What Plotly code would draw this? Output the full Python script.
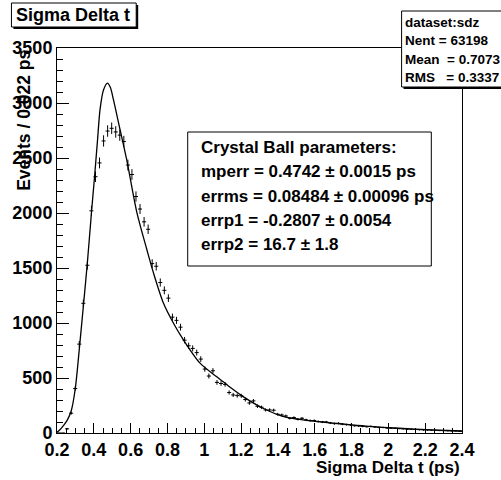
import numpy as np
import plotly.graph_objects as go

# ---------------- data ----------------
bin_lo, bin_hi, n_bins = 0.2, 2.4, 100
counts = [
    0, 0, 38, 180, 404, 808, 1179, 1525, 2020, 2330,
    2455, 2655, 2745, 2770, 2737, 2708, 2650, 2436, 2350, 2150,
    2036, 1920, 1852, 1540, 1516, 1368, 1297, 1226, 1053, 1024,
    962, 844, 793, 769, 731, 672, 581, 518, 566, 460,
    450, 442, 368, 346, 340, 338, 304, 273, 292, 243,
    234, 210, 210, 207, 170, 164, 155, 134, 140, 125,
    134, 119, 113, 113, 104, 100, 100, 91, 85, 88,
    80, 76, 74, 66, 64, 60, 57, 60, 55, 51,
    50, 46, 44, 43, 40, 38, 35, 33, 32, 30,
    28, 27, 25, 24, 22, 21, 20, 19, 18, 16,
]
curve_x = [0.200, 0.210, 0.236, 0.255, 0.277, 0.299, 0.321, 0.343, 0.365, 0.387,
           0.404, 0.420, 0.434, 0.453, 0.474, 0.490, 0.506, 0.542, 0.578, 0.634,
           0.688, 0.724, 0.778, 0.832, 0.886, 0.977, 1.066, 1.103, 1.157, 1.211,
           1.319, 1.427, 1.535, 1.643, 1.751, 1.877, 2.058, 2.238, 2.400]
curve_y = [8, 20, 70, 115, 200, 400, 760, 1150, 1550, 2000,
           2330, 2660, 2944, 3120, 3180, 3140, 3035, 2762, 2489, 2003,
           1668, 1456, 1182, 1000, 848, 635, 513, 466, 395, 331,
           225, 152, 120, 100, 82, 63, 43, 28, 18]

x_tick_vals = [0.2, 0.4, 0.6, 0.8, 1.0, 1.2, 1.4, 1.6, 1.8, 2.0, 2.2, 2.4]
x_tick_text = ["0.2", "0.4", "0.6", "0.8", "1", "1.2", "1.4", "1.6", "1.8", "2", "2.2", "2.4"]
y_tick_vals = [0, 500, 1000, 1500, 2000, 2500, 3000, 3500]
y_tick_text = ["0", "500", "1000", "1500", "2000", "2500", "3000", "3500"]

title_text = "Sigma Delta t"
x_title = "Sigma Delta t (ps)"
y_title = "Events / 0.022 ps"
stats_lines = ["dataset:sdz", "Nent = 63198", "Mean  = 0.7073", "RMS   = 0.3337"]
fit_lines = ["Crystal Ball parameters:",
             "mperr = 0.4742 ± 0.0015 ps",
             "errms = 0.08484 ± 0.00096 ps",
             "errp1 = -0.2807 ± 0.0054",
             "errp2 = 16.7 ± 1.8"]

# ---------------- derived ----------------
edges = np.linspace(bin_lo, bin_hi, n_bins + 1)
centers = 0.5 * (edges[:-1] + edges[1:])
half_w = 0.5 * (edges[1] - edges[0])
cnt = np.array(counts, dtype=float)
err = np.sqrt(cnt)

FONT = "Liberation Sans, Arial, Helvetica, sans-serif"
W, H = 501, 480
L, R, T, B = 53, 462, 48, 433
PW, PH = R - L, B - T


def px(p):
    return (p - L) / PW


def py(p):
    return (B - p) / PH


fig = go.Figure()
fig.add_trace(go.Scatter(
    x=centers, y=cnt, mode="markers",
    marker=dict(size=1, color="black"),
    error_y=dict(type="data", array=err, visible=True, width=0, thickness=1, color="black"),
    error_x=dict(type="constant", value=half_w, visible=True, width=0, thickness=1, color="black"),
    showlegend=False, hoverinfo="skip"))
fig.add_trace(go.Scatter(
    x=curve_x, y=curve_y, mode="lines",
    line=dict(color="black", width=1.3, shape="spline", smoothing=0.8),
    showlegend=False, hoverinfo="skip"))

shapes = []
# title box with shadow
shapes.append(dict(type="rect", xref="paper", yref="paper",
                   x0=px(9), x1=px(135), y0=py(29), y1=py(5),
                   line=dict(width=0), fillcolor="black", layer="above"))
shapes.append(dict(type="rect", xref="paper", yref="paper",
                   x0=px(7), x1=px(133), y0=py(27), y1=py(3),
                   line=dict(width=1, color="black"), fillcolor="white", layer="above"))
# stats box with shadow
shapes.append(dict(type="rect", xref="paper", yref="paper",
                   x0=px(403), x1=px(520), y0=py(89), y1=py(13),
                   line=dict(width=0), fillcolor="black", layer="above"))
shapes.append(dict(type="rect", xref="paper", yref="paper",
                   x0=px(401), x1=px(518), y0=py(87), y1=py(11),
                   line=dict(width=1, color="black"), fillcolor="white", layer="above"))
# fit parameter box
shapes.append(dict(type="rect", xref="paper", yref="paper",
                   x0=px(185), x1=px(431), y0=py(266), y1=py(132),
                   line=dict(width=1, color="black"), fillcolor="white", layer="above"))

ann = []
ann.append(dict(text=title_text, xref="paper", yref="paper", x=px(69), y=py(15),
                xanchor="center", yanchor="middle", showarrow=False,
                font=dict(family=FONT, size=18, color="black", weight="bold")))
for i, s in enumerate(stats_lines):
    ann.append(dict(text=s.replace(" ", "&nbsp;"), xref="paper", yref="paper",
                    x=px(402), y=py(22.5 + 18.3 * i), xanchor="left", yanchor="middle",
                    showarrow=False,
                    font=dict(family=FONT, size=13.5, color="black", weight="bold")))
for i, s in enumerate(fit_lines):
    ann.append(dict(text=s, xref="paper", yref="paper",
                    x=px(196), y=py(147.5 + 24.3 * i), xanchor="left", yanchor="middle",
                    showarrow=False,
                    font=dict(family=FONT, size=17, color="black", weight="bold")))
ann.append(dict(text=x_title, xref="paper", yref="paper", x=1.0, y=py(467),
                xanchor="right", yanchor="middle", showarrow=False,
                font=dict(family=FONT, size=17, color="black", weight="bold")))
ann.append(dict(text=y_title, xref="paper", yref="paper", x=px(19), y=1.0,
                xanchor="center", yanchor="top", textangle=-90, showarrow=False,
                font=dict(family=FONT, size=17.5, color="black", weight="bold")))

axis_common = dict(showgrid=False, zeroline=False, showline=True, mirror=True,
                   linecolor="black", linewidth=1, ticks="inside", tickcolor="black",
                   tickwidth=1,
                   tickfont=dict(family=FONT, size=18, color="black", weight="bold"))

fig.update_layout(
    width=W, height=H, autosize=False,
    margin=dict(l=L, r=W - R, t=T, b=H - B, pad=0),
    paper_bgcolor="white", plot_bgcolor="white",
    font=dict(family=FONT, color="black", weight="bold"),
    xaxis=dict(range=[bin_lo, bin_hi], tickvals=x_tick_vals, ticktext=x_tick_text,
               ticklen=10,
               minor=dict(tick0=0.2, dtick=0.05, ticks="inside", ticklen=5,
                          tickcolor="black", showgrid=False),
               **axis_common),
    yaxis=dict(range=[0, 3500], tickvals=y_tick_vals, ticktext=y_tick_text,
               ticklen=12,
               minor=dict(tick0=0, dtick=100, ticks="inside", ticklen=6,
                          tickcolor="black", showgrid=False),
               **axis_common),
    shapes=shapes, annotations=ann,
)

fig.write_html("out.html", config={"displayModeBar": False},
               post_script="document.body.style.margin='0';document.body.style.overflow='hidden';")
